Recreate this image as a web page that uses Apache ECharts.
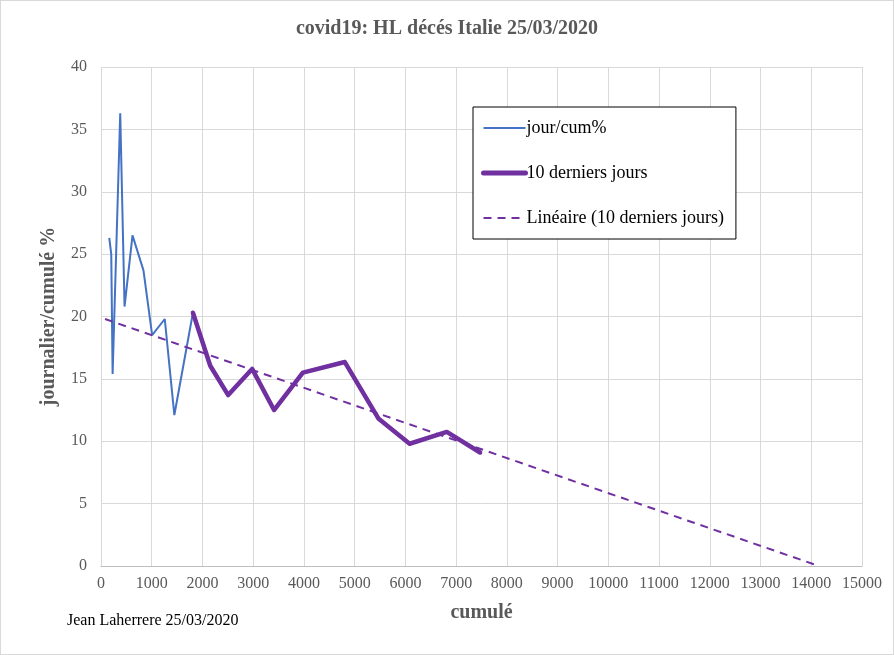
<!DOCTYPE html>
<html>
<head>
<meta charset="utf-8">
<script src="https://cdn.jsdelivr.net/npm/echarts@6/dist/echarts.min.js"></script>
<style>
  html, body { margin: 0; padding: 0; background: #fff; }
  #chart { width: 894px; height: 655px; box-sizing: border-box; border: 1px solid #d9d9d9; }
</style>
</head>
<body>
<div id="chart"></div>
<script>
// jour/cum% : cumulé (x) vs journalier/cumulé % (y)
const cumule = [163, 202, 229, 379, 464, 621, 837, 1008, 1257, 1446, 1812, 2153, 2507, 2979, 3411, 3979, 4806, 5473, 6083, 6816, 7472]
const pourcent = [26.3, 25.0, 15.4, 36.3, 20.8, 26.5, 23.7, 18.5, 19.8, 12.1, 20.3, 16.05, 13.7, 15.8, 12.5, 15.5, 16.35, 11.8, 9.8, 10.75, 9.1]
// 10 derniers jours = last 11 points
const derniersDebut = 10
// tendance linéaire
const tendanceX = [80, 14150]
const tendanceY = [19.8, 0]
const xTicks = { min: 0, max: 15000, interval: 1000 }
const yTicks = { min: 0, max: 40, interval: 5 }

const serif = 'Liberation Serif'
const gris = '#595959'

const jourData = cumule.map((v, i) => [v, pourcent[i]])
const derniersData = jourData.slice(derniersDebut)
const tendanceData = tendanceX.map((v, i) => [v, tendanceY[i]])

const chart = echarts.init(document.getElementById('chart'))
chart.setOption({
  animation: false,
  title: {
    text: 'covid19: HL décés Italie 25/03/2020',
    left: 'center',
    top: 13,
    textStyle: { fontFamily: serif, fontSize: 20, fontWeight: 'bold', color: gris }
  },
  graphic: [{
    type: 'text',
    left: 66,
    top: 612,
    style: { text: 'Jean Laherrere 25/03/2020', font: '16px "Liberation Serif"', fill: '#000' }
  }],
  legend: {
    orient: 'vertical',
    left: 472,
    top: 106,
    width: 263,
    backgroundColor: '#fff',
    borderColor: '#000',
    borderWidth: 1,
    borderRadius: 0,
    padding: [12, 12, 12, 8],
    itemGap: 27,
    itemWidth: 42,
    itemHeight: 14,
    itemStyle: { opacity: 0 },
    textStyle: { fontFamily: serif, fontSize: 18, color: '#000', padding: [0, 0, 0, -4] },
    data: [
      { name: 'jour/cum%', lineStyle: { width: 2 } },
      { name: '10 derniers jours', lineStyle: { width: 5 } },
      { name: 'Linéaire (10 derniers jours)', lineStyle: { width: 2 } }
    ]
  },
  grid: { left: 100, right: 31, top: 66, bottom: 88, containLabel: false },
  xAxis: {
    type: 'value',
    min: xTicks.min,
    max: xTicks.max,
    interval: xTicks.interval,
    name: 'cumulé',
    nameLocation: 'middle',
    nameGap: 37,
    nameTextStyle: { fontFamily: serif, fontSize: 20, fontWeight: 'bold', color: gris },
    axisLine: { show: true, lineStyle: { color: '#bfbfbf', width: 1 } },
    axisTick: { show: false },
    axisLabel: { fontFamily: serif, fontSize: 16, color: gris, margin: 10, formatter: v => String(v) },
    splitLine: { show: true, lineStyle: { color: '#d9d9d9', width: 1 } }
  },
  yAxis: {
    type: 'value',
    min: yTicks.min,
    max: yTicks.max,
    interval: yTicks.interval,
    name: 'journalier/cumulé %',
    nameLocation: 'middle',
    nameGap: 42,
    nameTextStyle: { fontFamily: serif, fontSize: 20, fontWeight: 'bold', color: gris },
    axisLine: { show: false },
    axisTick: { show: false },
    axisLabel: { fontFamily: serif, fontSize: 16, color: gris, margin: 14 },
    splitLine: { show: true, lineStyle: { color: '#d9d9d9', width: 1 } }
  },
  series: [
    {
      name: 'jour/cum%',
      type: 'line',
      data: jourData,
      showSymbol: false,
      symbol: 'none',
      lineStyle: { color: '#4472C4', width: 2 },
      itemStyle: { color: '#4472C4' },
      z: 2
    },
    {
      name: '10 derniers jours',
      type: 'line',
      data: derniersData,
      showSymbol: false,
      symbol: 'none',
      lineStyle: { color: '#7030A0', width: 4.5, cap: 'round', join: 'round' },
      itemStyle: { color: '#7030A0' },
      z: 3
    },
    {
      name: 'Linéaire (10 derniers jours)',
      type: 'line',
      data: tendanceData,
      showSymbol: false,
      symbol: 'none',
      lineStyle: { color: '#7030A0', width: 2, type: [8, 6] },
      itemStyle: { color: '#7030A0' },
      z: 4
    }
  ]
})
</script>
</body>
</html>
